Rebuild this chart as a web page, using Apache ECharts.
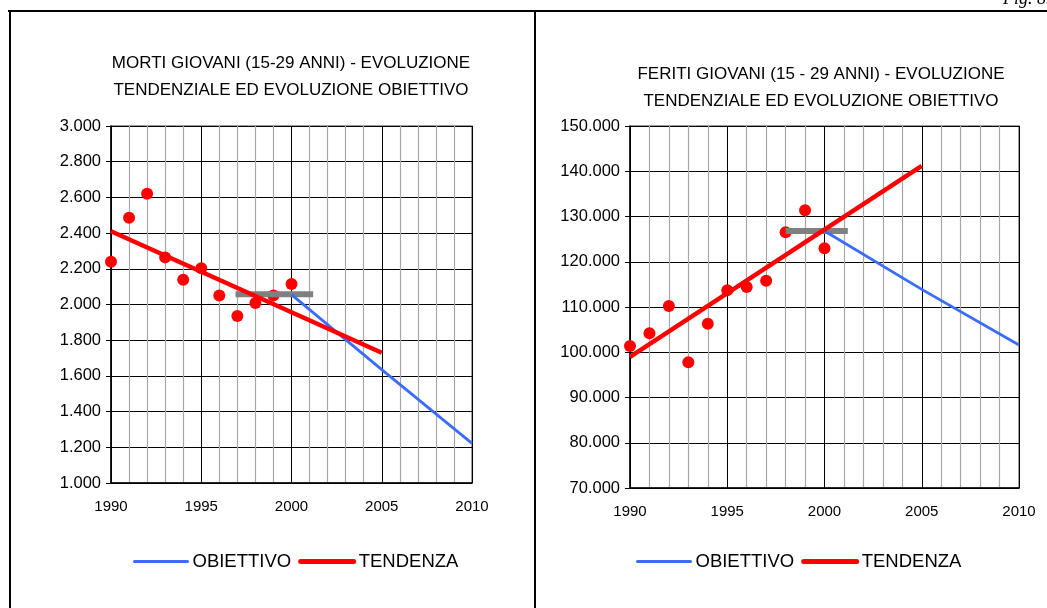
<!DOCTYPE html>
<html>
<head>
<meta charset="utf-8">
<script src="https://cdn.jsdelivr.net/npm/echarts@6/dist/echarts.min.js"></script>
<style>
html,body{margin:0;padding:0;background:#fff;}
#chart{width:1047px;height:608px;}
</style>
</head>
<body>
<div id="chart"></div>
<script>
// ---- data ----
const years = [1990, 1991, 1992, 1993, 1994, 1995, 1996, 1997, 1998, 1999, 2000];
const mortiValues = [2240, 2486, 2620, 2264, 2139, 2203, 2050, 1935, 2008, 2050, 2115];
const feritiValues = [101400, 104200, 110200, 97800, 106300, 113700, 114400, 115800, 126500, 131400, 123000];

const trendYears = [1990, 2005];
const mortiTrend = [2410, 1730];
const feritiTrend = [99000, 141200];

const objYears = [2000, 2005, 2010];
const mortiObj = [2055, 1635, 1222];
const feritiObj = [126800, 113900, 101600];

const mortiRefYears = [1996.9, 2001.2];
const mortiRefValue = 2058;
const feritiRefYears = [1998, 2001.2];
const feritiRefValue = 126800;

const xTicks = [1990, 1995, 2000, 2005, 2010];
const mortiRange = [1000, 3000, 200];
const feritiRange = [70000, 150000, 10000];

const titleMorti = 'MORTI GIOVANI (15-29 ANNI) - EVOLUZIONE\nTENDENZIALE ED EVOLUZIONE OBIETTIVO';
const titleFeriti = 'FERITI GIOVANI (15 - 29 ANNI) - EVOLUZIONE\nTENDENZIALE ED EVOLUZIONE OBIETTIVO';

// ---- helpers ----
const pair = (xs, ys) => xs.map((x, i) => [x, ys[i]]);
const fmt = v => String(v).replace(/\B(?=(\d{3})+(?!\d))/g, '.');
const FONT = '"Liberation Sans", Arial, sans-serif';

function xAxis(gi) {
  return {
    type: 'value', gridIndex: gi, min: xTicks[0], max: xTicks[xTicks.length - 1], interval: 5,
    axisLine: { show: true, onZero: false, lineStyle: { color: '#000', width: 1.5 } },
    axisTick: { show: false },
    axisLabel: { color: '#000', fontFamily: FONT, fontSize: 15, margin: 16, formatter: v => String(v) },
    splitLine: { show: true, lineStyle: { color: '#000', width: 1 } },
    minorTick: { show: false, splitNumber: 5 },
    minorSplitLine: { show: true, lineStyle: { color: '#a8a8a8', width: 1.2 } }
  };
}
function yAxis(gi, r) {
  return {
    type: 'value', gridIndex: gi, min: r[0], max: r[1], interval: r[2],
    axisLine: { show: true, onZero: false, lineStyle: { color: '#000', width: 1.5 } },
    axisTick: { show: true, length: 5, lineStyle: { color: '#000' } },
    axisLabel: { color: '#000', fontFamily: FONT, fontSize: 16.5, margin: 10, formatter: fmt },
    splitLine: { show: true, lineStyle: { color: '#000', width: 1 } }
  };
}
function seriesFor(gi, vals, trend, obj, refYears, refVal) {
  return [
    { type: 'scatter', name: 'dati', xAxisIndex: gi, yAxisIndex: gi, data: pair(years, vals),
      symbol: 'circle', symbolSize: 12, itemStyle: { color: '#ff0000', opacity: 1 }, z: 2 },
    { type: 'line', name: 'rif', xAxisIndex: gi, yAxisIndex: gi,
      data: pair(refYears, refYears.map(() => refVal)), symbol: 'none',
      lineStyle: { color: '#808080', width: 6, cap: 'butt' }, z: 3 },
    { type: 'line', name: 'OBIETTIVO', xAxisIndex: gi, yAxisIndex: gi, data: pair(objYears, obj),
      symbol: 'none', lineStyle: { color: '#3a6cff', width: 2.8 }, itemStyle: { color: '#3a6cff' }, z: 4 },
    { type: 'line', name: 'TENDENZA', xAxisIndex: gi, yAxisIndex: gi, data: pair(trendYears, trend),
      symbol: 'none', lineStyle: { color: '#ff0000', width: 4.5 }, itemStyle: { color: '#ff0000' }, z: 5 }
  ];
}
function legend(left) {
  return {
    left: left, top: 547,
    data: [
      { name: 'OBIETTIVO', lineStyle: { width: 3, color: '#3a6cff', cap: 'round' } },
      { name: 'TENDENZA', lineStyle: { width: 5, color: '#ff0000', cap: 'round' } }
    ],
    itemWidth: 53, itemHeight: 14, itemGap: 7,
    selectedMode: false,
    itemStyle: { color: 'rgba(0,0,0,0)', borderColor: 'rgba(0,0,0,0)', borderWidth: 0 },
    textStyle: { color: '#000', fontFamily: FONT, fontSize: 18.5 }
  };
}

const chart = echarts.init(document.getElementById('chart'), null, { renderer: 'canvas' });
chart.setOption({
  animation: false,
  backgroundColor: '#fff',
  title: [
    { text: titleMorti, left: 286, top: 45, textAlign: 'center',
      textStyle: { fontFamily: FONT, fontSize: 17, fontWeight: 'normal', color: '#000', lineHeight: 27 } },
    { text: titleFeriti, left: 816, top: 56, textAlign: 'center',
      textStyle: { fontFamily: FONT, fontSize: 17, fontWeight: 'normal', color: '#000', lineHeight: 27 } }
  ],
  legend: [legend(128), legend(631)],
  grid: [
    { left: 111, top: 126, width: 361, height: 357, show: true, borderColor: '#808080', borderWidth: 1.5 },
    { left: 630, top: 126, width: 389, height: 362, show: true, borderColor: '#808080', borderWidth: 1.5 }
  ],
  xAxis: [xAxis(0), xAxis(1)],
  yAxis: [yAxis(0, mortiRange), yAxis(1, feritiRange)],
  series: seriesFor(0, mortiValues, mortiTrend, mortiObj, mortiRefYears, mortiRefValue)
    .concat(seriesFor(1, feritiValues, feritiTrend, feritiObj, feritiRefYears, feritiRefValue)),
  graphic: [
    { type: 'line', shape: { x1: 8, y1: 11, x2: 1047, y2: 11 }, style: { stroke: '#000', lineWidth: 2 } },
    { type: 'line', shape: { x1: 10, y1: 10, x2: 10, y2: 608 }, style: { stroke: '#000', lineWidth: 2 } },
    { type: 'line', shape: { x1: 535, y1: 10, x2: 535, y2: 608 }, style: { stroke: '#000', lineWidth: 2 } },
    { type: 'text', style: { text: 'Fig. 8.0', x: 1003, y: 8, textVerticalAlign: 'bottom',
        font: 'italic 18px "Liberation Serif", serif', fill: '#000' } }
  ]
});
</script>
</body>
</html>
